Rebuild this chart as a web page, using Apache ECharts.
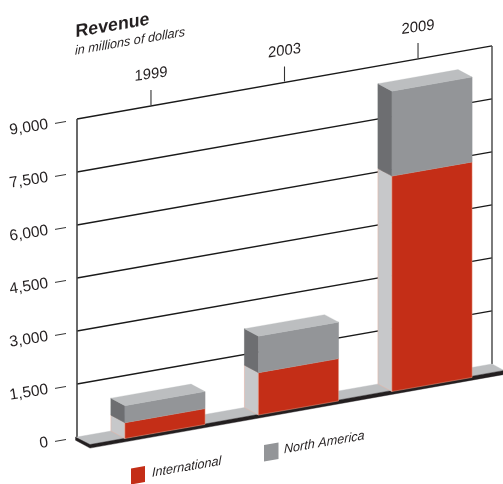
<!DOCTYPE html>
<html><head><meta charset="utf-8">
<style>html,body{margin:0;padding:0;background:#fff}#c{width:503px;height:484px}</style>
<script src="https://cdn.jsdelivr.net/npm/echarts@6/dist/echarts.min.js"></script>
</head><body><div id="c"></div>
<script>
const years = ['1999', '2003', '2009'];
const international = [450, 1200, 6100];
const northAmerica = [480, 1030, 2400];
const yTicks = [0, 1500, 3000, 4500, 6000, 7500, 9000];

const SLOPE = 0.176, X0 = 77, SHIFT = 5.5, DX = 14, DY = 7.5;
const FONT = '"Liberation Sans", Arial, sans-serif';
const chart = echarts.init(document.getElementById('c'), null, {renderer: 'canvas'});

function shear(api, x, v, dx, dy) {
  const p = api.coord([x, v]);
  const px = p[0] + (dx || 0);
  return [px, p[1] - SHIFT - SLOPE * (px - X0)];
}
function poly(points, fill, stroke, lw) {
  return {type: 'polygon', shape: {points}, style: {fill, stroke: stroke || fill, lineWidth: lw == null ? 0.4 : lw}};
}
function line(a, b, color, width) {
  return {type: 'line', shape: {x1: a[0], y1: a[1], x2: b[0], y2: b[1]}, style: {stroke: color, lineWidth: width}};
}
const mv = (p, dx, dy) => [p[0] + dx, p[1] + dy];

const xMin = -0.554, xMax = 2.554;

function renderWall(params, api) {
  const v = api.value(0), children = [];
  const l = shear(api, xMin, v), r = shear(api, xMax, v);
  if (v !== 0) children.push(line(l, r, '#1a1a1a', 1.3));
  children.push(line([55, l[1] + 4.4], [66, l[1] + 2.5], '#333', 1));
  if (v === 9000) {
    const bl = shear(api, xMin, 0), br = shear(api, xMax, 0);
    children.push(line(l, bl, '#444', 1.6));
    children.push(line(r, br, '#444', 1.4));
  }
  return {type: 'group', children};
}
function renderFloor(params, api) {
  const l = shear(api, xMin, 0), r = shear(api, xMax, 0);
  const ext = 12;
  const fl = mv(l, DX - 1, DY), fr = [r[0] + ext, r[1] + 6.5];
  return {type: 'group', children: [
    poly([l, r, fr, fl], '#bcbec0'),
    poly([[l[0] - 1.5, l[1]], fl, fr, mv(fr, 0, 4), mv(fl, 0, 3.6), [l[0] - 1.5, l[1] + 3.2]], '#231f20')
  ]};
}
function renderYear(params, api) {
  const i = api.value(0);
  const t = shear(api, i, 9000);
  return {type: 'group', children: [
    line(mv(t, 0, -1), mv(t, 0, -16), '#333', 1.1),
    {type: 'text', x: t[0], y: t[1] - 31.5, rotation: 0.14, skewX: -0.14,
     style: {text: years[i], fill: '#231f20', font: '15px "Liberation Sans"', align: 'center', verticalAlign: 'middle'}}
  ]};
}
function makeBar(frontCol, sideCol, sideEdge, hasTop) {
  return function (params, api) {
    const i = api.value(0), lo = api.value(1), hi = api.value(2);
    const half = api.size([1, 0])[0] * 0.3;
    const bl = shear(api, i, lo, -half), tl = shear(api, i, hi, -half);
    const br = shear(api, i, lo, half), tr = shear(api, i, hi, half);
    const f = p => mv(p, DX, DY);
    const kids = [
      poly([bl, tl, f(tl), f(bl)], sideCol, sideEdge, 0.6),
      poly([f(bl), f(tl), f(tr), f(br)], frontCol, frontCol === '#c42e17' ? '#e59a85' : frontCol, 0.5)
    ];
    if (hasTop) kids.push(poly([tl, tr, f(tr), f(tl)], '#bcbec0', '#bcbec0', 0.3));
    return {type: 'group', children: kids};
  };
}
const stackA = years.map((y, i) => [i, 0, international[i]]);
const stackB = years.map((y, i) => [i, international[i], international[i] + northAmerica[i]]);

const captions = [
  ['Revenue', 75.5, 23, 'bold 18px "Liberation Sans"'],
  ['in millions of dollars', 75, 44.5, 'italic 12.8px "Liberation Sans"'],
  ['International', 152, 466.5, 'italic 12.8px "Liberation Sans"'],
  ['North America', 284, 443, 'italic 12.8px "Liberation Sans"']
];
function renderCaption(params, api) {
  const c = captions[api.value(0)];
  return {type: 'text', x: c[1], y: c[2], rotation: 0.17, skewX: -0.17,
    style: {text: c[0], fill: '#231f20', font: c[3]}};
}

chart.setOption({
  animation: false,
  backgroundColor: '#fff',
  grid: {left: X0, right: 11, top: 124.5, bottom: 41.5, containLabel: false},
  xAxis: {type: 'value', min: xMin, max: xMax, show: false},
  yAxis: {
    type: 'value', min: 0, max: 9000, interval: 1500, offset: 22,
    axisLine: {show: false}, axisTick: {show: false}, splitLine: {show: false},
    axisLabel: {
      rotate: 9, margin: 7, color: '#231f20', fontSize: 15.5, fontFamily: FONT,
      formatter: v => v.toLocaleString('en-US')
    }
  },
  series: [
    {type: 'custom', name: 'Walls', silent: true, z: 1, clip: false, data: yTicks.map(v => [v]), renderItem: renderWall, encode: {y: 0}},
    {type: 'custom', name: 'Floor', silent: true, z: 2, clip: false, data: [[0]], renderItem: renderFloor},
    {type: 'custom', name: 'Years', silent: true, z: 2, clip: false, data: years.map((y, i) => [i]), renderItem: renderYear},
    {type: 'custom', name: 'International', z: 3, clip: false, data: stackA, renderItem: makeBar('#c42e17', '#c7c8ca', '#e3b5a8', false)},
    {type: 'custom', name: 'North America', z: 4, clip: false, data: stackB, renderItem: makeBar('#939598', '#6d6e71', '#6d6e71', true)},
    {type: 'custom', name: 'Captions', silent: true, z: 5, clip: false, data: captions.map((c, i) => [i]), renderItem: renderCaption}
  ],
  graphic: [
    {type: 'polygon', shape: {points: [[131, 468.5], [145, 466], [145, 482], [131, 484.5]]}, style: {fill: '#c42e17'}},
    {type: 'polygon', shape: {points: [[264, 445], [278.5, 442.5], [278.5, 459], [264, 461.5]]}, style: {fill: '#939598'}}
  ]
});
</script></body></html>
